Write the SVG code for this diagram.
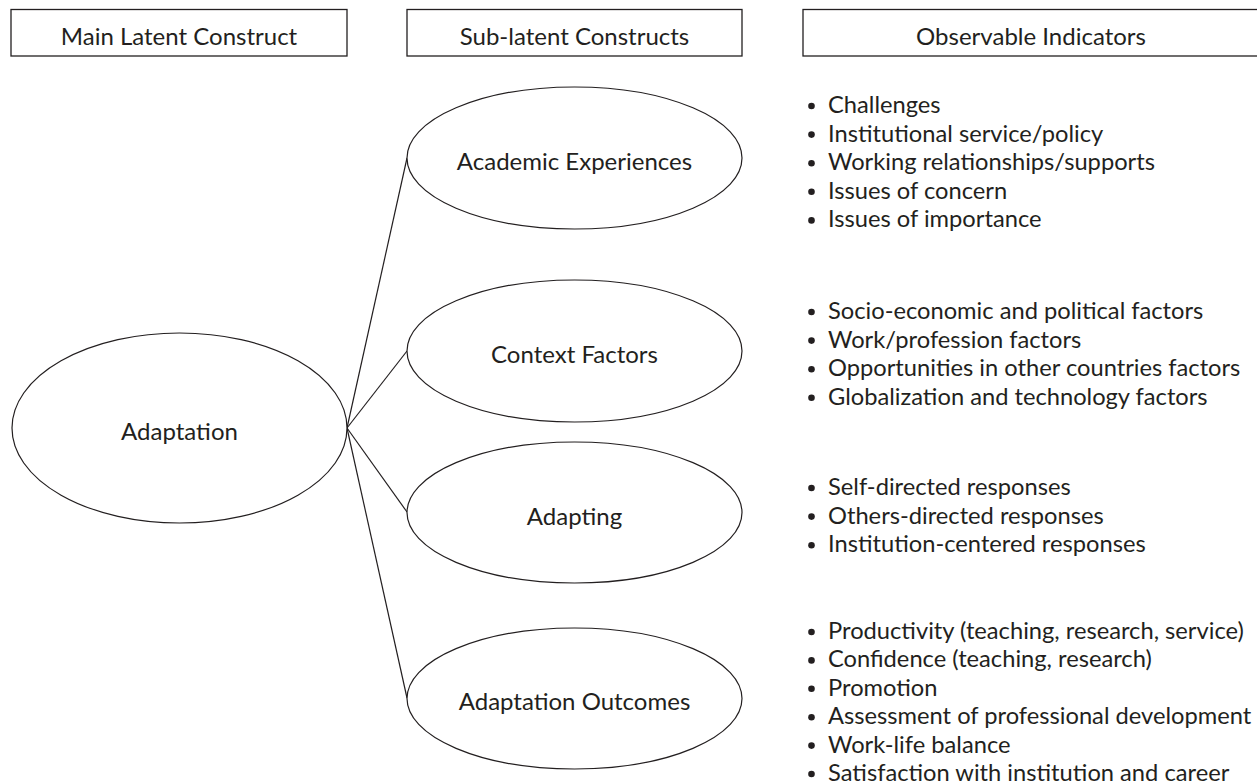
<svg xmlns="http://www.w3.org/2000/svg" width="1257" height="784" viewBox="0 0 1257 784">
  <style>
    .box { fill: #ffffff; stroke: #231f20; stroke-width: 1.3; }
    .node { fill: #ffffff; stroke: #231f20; stroke-width: 1.2; }
    .edge { stroke: #231f20; stroke-width: 1.2; fill: none; }
    .hdr { font-family: Lato, "Liberation Sans", sans-serif; font-size: 24px; fill: #231f20; text-anchor: middle; }
    .lbl { font-family: Lato, "Liberation Sans", sans-serif; font-size: 24px; fill: #231f20; text-anchor: middle; }
    .item { font-family: Lato, "Liberation Sans", sans-serif; font-size: 23.7px; fill: #231f20; }
    .dot { fill: #231f20; }
  </style>

  <!-- column headers -->
  <g id="header-main">
    <rect class="box" x="11" y="9.5" width="336" height="46.5"/>
    <text class="hdr" x="179" y="45">Main Latent Construct</text>
  </g>
  <g id="header-sub">
    <rect class="box" x="407" y="9.5" width="335" height="46.5"/>
    <text class="hdr" x="574.5" y="45">Sub-latent Constructs</text>
  </g>
  <g id="header-indicators">
    <rect class="box" x="803" y="9.5" width="456" height="46.5"/>
    <text class="hdr" x="1031" y="45">Observable Indicators</text>
  </g>

  <!-- connectors from the main construct to each sub-construct -->
  <g id="connectors">
    <line class="edge" x1="347" y1="428" x2="407" y2="158"/>
    <line class="edge" x1="347" y1="428" x2="407" y2="351"/>
    <line class="edge" x1="347" y1="428" x2="407" y2="512"/>
    <line class="edge" x1="347" y1="428" x2="407" y2="698"/>
  </g>

  <!-- main latent construct -->
  <g id="adaptation">
    <ellipse class="node" cx="179.5" cy="428" rx="167.5" ry="95"/>
    <text class="lbl" x="179.5" y="440">Adaptation</text>
  </g>

  <!-- sub-latent constructs -->
  <g id="academic-experiences">
    <ellipse class="node" cx="574.5" cy="158" rx="167.5" ry="71"/>
    <text class="lbl" x="574.5" y="170">Academic Experiences</text>
  </g>
  <g id="context-factors">
    <ellipse class="node" cx="574.5" cy="351" rx="167.5" ry="71"/>
    <text class="lbl" x="574.5" y="363">Context Factors</text>
  </g>
  <g id="adapting">
    <ellipse class="node" cx="574.5" cy="512.5" rx="167.5" ry="70.5"/>
    <text class="lbl" x="574.5" y="525">Adapting</text>
  </g>
  <g id="adaptation-outcomes">
    <ellipse class="node" cx="574.5" cy="698.5" rx="167.5" ry="70.5"/>
    <text class="lbl" x="574.5" y="710">Adaptation Outcomes</text>
  </g>

  <!-- observable indicators -->
  <g id="indicators-academic">
    <circle class="dot" cx="811.5" cy="106" r="3.3"/>
    <circle class="dot" cx="811.5" cy="134.6" r="3.3"/>
    <circle class="dot" cx="811.5" cy="163.2" r="3.3"/>
    <circle class="dot" cx="811.5" cy="191.8" r="3.3"/>
    <circle class="dot" cx="811.5" cy="220.4" r="3.3"/>
    <text class="item" x="828" y="113">Challenges</text>
    <text class="item" x="828" y="141.6">Institutional service/policy</text>
    <text class="item" x="828" y="170.2">Working relationships/supports</text>
    <text class="item" x="828" y="198.8">Issues of concern</text>
    <text class="item" x="828" y="227.4">Issues of importance</text>
  </g>
  <g id="indicators-context">
    <circle class="dot" cx="811.5" cy="312" r="3.3"/>
    <circle class="dot" cx="811.5" cy="340.6" r="3.3"/>
    <circle class="dot" cx="811.5" cy="369.2" r="3.3"/>
    <circle class="dot" cx="811.5" cy="397.8" r="3.3"/>
    <text class="item" x="828" y="319">Socio-economic and political factors</text>
    <text class="item" x="828" y="347.6">Work/profession factors</text>
    <text class="item" x="828" y="376.2">Opportunities in other countries factors</text>
    <text class="item" x="828" y="404.8">Globalization and technology factors</text>
  </g>
  <g id="indicators-adapting">
    <circle class="dot" cx="811.5" cy="488" r="3.3"/>
    <circle class="dot" cx="811.5" cy="516.6" r="3.3"/>
    <circle class="dot" cx="811.5" cy="545.2" r="3.3"/>
    <text class="item" x="828" y="495">Self-directed responses</text>
    <text class="item" x="828" y="523.6">Others-directed responses</text>
    <text class="item" x="828" y="552.2">Institution-centered responses</text>
  </g>
  <g id="indicators-outcomes">
    <circle class="dot" cx="811.5" cy="632" r="3.3"/>
    <circle class="dot" cx="811.5" cy="660.4" r="3.3"/>
    <circle class="dot" cx="811.5" cy="688.8" r="3.3"/>
    <circle class="dot" cx="811.5" cy="717.2" r="3.3"/>
    <circle class="dot" cx="811.5" cy="745.6" r="3.3"/>
    <circle class="dot" cx="811.5" cy="774" r="3.3"/>
    <text class="item" x="828" y="639">Productivity (teaching, research, service)</text>
    <text class="item" x="828" y="667.4">Confidence (teaching, research)</text>
    <text class="item" x="828" y="695.8">Promotion</text>
    <text class="item" x="828" y="724.2">Assessment of professional development</text>
    <text class="item" x="828" y="752.6">Work-life balance</text>
    <text class="item" x="828" y="781">Satisfaction with institution and career</text>
  </g>
</svg>
